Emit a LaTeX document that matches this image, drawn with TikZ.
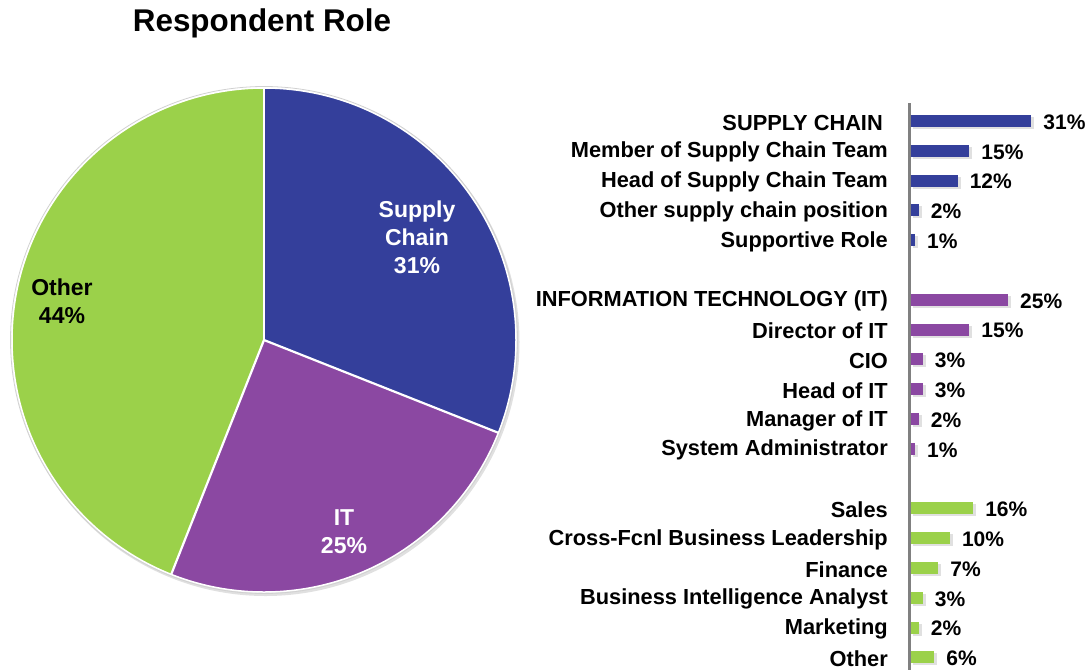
\documentclass[tikz,border=0pt]{standalone}
\usepackage{fontspec}
\setmainfont{Liberation Sans}
\definecolor{scblue}{RGB}{52,63,155}
\definecolor{itpurple}{RGB}{139,72,162}
\definecolor{otgreen}{RGB}{155,209,74}
\definecolor{axisgray}{RGB}{128,128,128}
\tikzset{
  lbl/.style={anchor=east, inner sep=0pt, font=\fontsize{21.8}{23}\selectfont\bfseries},
  pct/.style={anchor=west, inner sep=0pt, font=\fontsize{21}{22}\selectfont\bfseries},
  slice/.style={draw=white, line width=2.2pt, line join=round},
  pielbl/.style={align=center, inner sep=0pt, font=\fontsize{23}{28}\selectfont\bfseries},
  barshadow/.style={fill=black, opacity=0.12},
}
\begin{document}
\begin{tikzpicture}[x=1pt,y=-1pt]
\useasboundingbox (0,0) rectangle (1088,670);
% title
\node[inner sep=0pt, font=\fontsize{31.4}{34}\selectfont\bfseries] (title) at (262,23) {Respondent Role};
% pie
\coordinate (c) at (264,340);
\fill[black!12] (c) ++(1.5,2) circle[radius=254];
\fill[scblue]  (c) -- ++(-90:252) arc[start angle=-90, end angle=21.6, radius=252] -- cycle;
\fill[itpurple] (c) -- ++(21.6:252) arc[start angle=21.6, end angle=111.6, radius=252] -- cycle;
\fill[otgreen] (c) -- ++(111.6:252) arc[start angle=111.6, end angle=270, radius=252] -- cycle;
\draw[slice] (c) -- ++(-90:252);
\draw[slice] (c) -- ++(21.6:252);
\draw[slice] (c) -- ++(111.6:252);
\draw[white, line width=1.5pt] (c) circle[radius=252];
\draw[black!18, line width=0.8pt] (c) circle[radius=253.5];
\node[pielbl, text=white] (plsc) at (417,237) {Supply\\Chain\\31\%};
\node[pielbl, text=white] (plit) at (344,532) {IT\\25\%};
\node[pielbl, text=black] (plot) at (62,301) {Other\\44\%};
% axis
\draw[axisgray, line width=3pt] (909,103) -- (909,670);
% bars
\foreach \i/\lab/\v/\col in {
  0/{SUPPLY CHAIN\hspace*{5pt}}/31/scblue,
  1/Member of Supply Chain Team/15/scblue,
  2/Head of Supply Chain Team/12/scblue,
  3/Other supply chain position/2/scblue,
  4/Supportive Role/1/scblue,
  6/INFORMATION TECHNOLOGY (IT)/25/itpurple,
  7/Director of IT/15/itpurple,
  8/CIO/3/itpurple,
  9/Head of IT/3/itpurple,
  10/Manager of IT/2/itpurple,
  11/System Administrator/1/itpurple,
  13/Sales/16/otgreen,
  14/Cross-Fcnl Business Leadership/10/otgreen,
  15/Finance/7/otgreen,
  16/Business Intelligence Analyst/3/otgreen,
  17/Marketing/2/otgreen,
  18/Other/6/otgreen}
{
  \pgfmathsetmacro{\yy}{121+29.8*\i}
  \pgfmathsetmacro{\xe}{911+3.88*\v}
  \fill[barshadow] (913,\yy-4) rectangle (\xe+3,\yy+8);
  \fill[\col] (911,\yy-6) rectangle (\xe,\yy+6);
  \node[lbl] (lab\i) at (888,\yy+1.5) {\lab};
  \node[pct] (pct\i) at (\xe+12,\yy+1) {\v\%};
}
\end{tikzpicture}
\end{document}
